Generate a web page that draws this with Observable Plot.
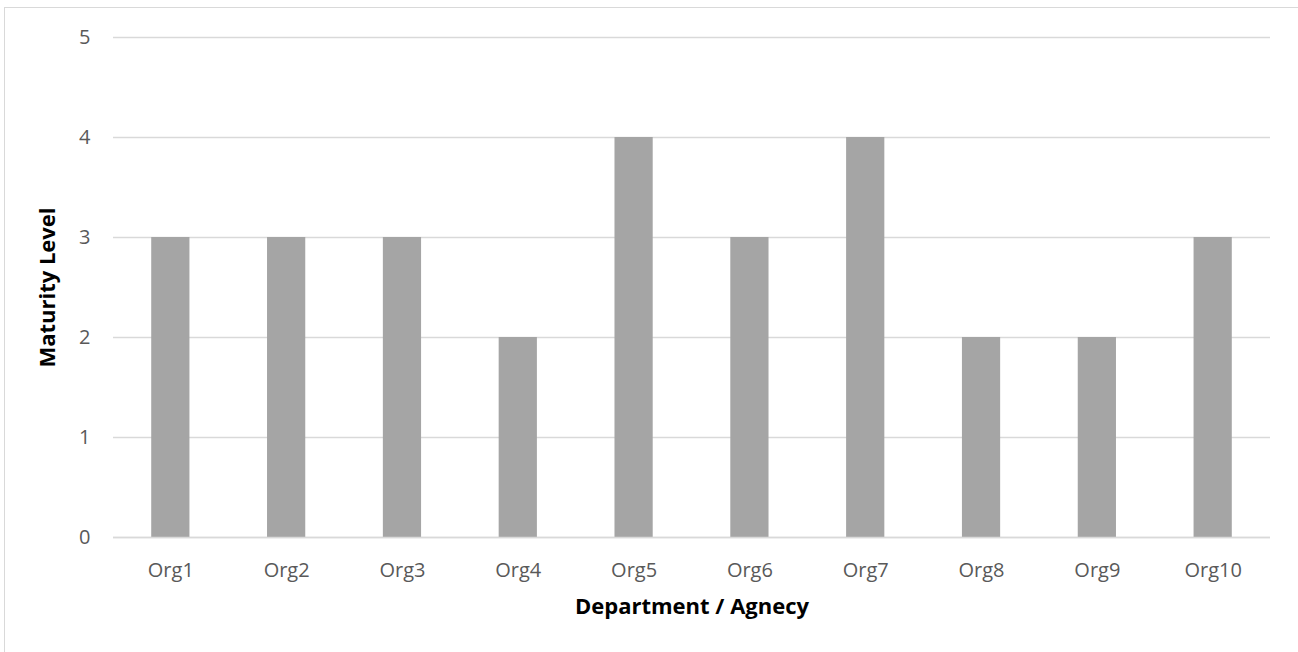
<!DOCTYPE html>
<html>
<head>
<meta charset="utf-8">
<script src="https://cdn.jsdelivr.net/npm/d3@7"></script>
<script src="https://cdn.jsdelivr.net/npm/@observablehq/plot@0.6"></script>
<style>
  body { margin: 0; background: #fff; overflow: hidden; }
  #wrap { position: relative; width: 1298px; height: 652px; }
  #border { position: absolute; left: 4px; top: 7px; width: 1300px; height: 700px; border: 1px solid #d9d9d9; box-sizing: border-box; pointer-events: none; }
  #chart { position: absolute; left: 0; top: 0; }
</style>
</head>
<body>
<div id="wrap"><div id="border"></div><div id="chart"></div></div>
<script>
const categories = ["Org1","Org2","Org3","Org4","Org5","Org6","Org7","Org8","Org9","Org10"];
const values = [3,3,3,2,4,3,4,2,2,3];
const yTicks = [0,1,2,3,4,5];

const data = categories.map((c, i) => ({org: c, level: values[i]}));

const chart = Plot.plot({
  width: 1298,
  height: 652,
  marginLeft: 113,
  marginRight: 28,
  marginTop: 37,
  marginBottom: 115,
  style: {fontFamily: "'Open Sans', sans-serif", background: "transparent"},
  x: {domain: categories, paddingInner: 0.67, paddingOuter: 0.33, round: false, label: null},
  y: {domain: [0, 5], label: null},
  marks: [
    Plot.gridY(yTicks, {stroke: "#d9d9d9", strokeOpacity: 1, strokeWidth: 1.3}),
    Plot.barY(data, {x: "org", y: "level", fill: "#a5a5a5"}),
    Plot.ruleY([0], {stroke: "#d9d9d9", strokeWidth: 1.3}),
    Plot.axisY(yTicks, {tickSize: 0, tickPadding: 23, fontSize: 20, fill: "#595959", tickFormat: "d", label: null}),
    Plot.axisX({tickSize: 0, tickPadding: 25, fontSize: 20, fill: "#595959", label: null}),
    Plot.text(["Department / Agnecy"], {frameAnchor: "bottom", dy: 76, fontSize: 22, fontWeight: "bold", fill: "#000"}),
    Plot.text(["Maturity Level"], {frameAnchor: "left", dx: -66, rotate: -90, textAnchor: "middle", fontSize: 22, fontWeight: "bold", fill: "#000"})
  ]
});
document.getElementById("chart").append(chart);
</script>
</body>
</html>
